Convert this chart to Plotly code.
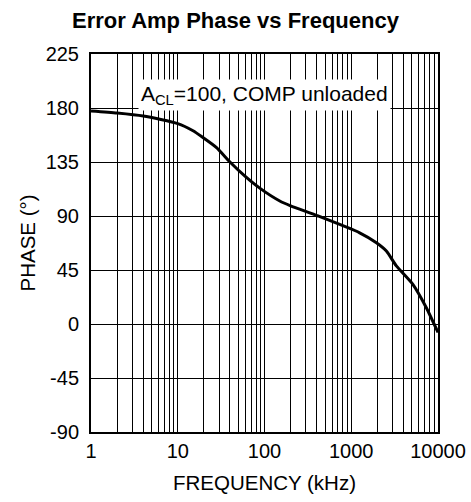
import plotly.graph_objects as go

freq_khz = [1, 2, 4, 10, 15, 19, 28, 40, 60, 89, 150, 200, 415, 1250, 1950, 2540, 3310, 5130, 7310, 10000]
phase_deg = [177.5, 175.8, 173.3, 167, 161, 156, 147, 135, 123, 113, 102.5, 98.5, 90, 76, 67.7, 60.8, 48.4, 33, 13.8, -7]

x_ticks = [1, 10, 100, 1000, 10000]
x_tick_labels = ["1", "10", "100", "1000", "10000"]
y_ticks = [-90, -45, 0, 45, 90, 135, 180, 225]
y_tick_labels = ["-90", "-45", "0", "45", "90", "135", "180", "225"]

fig = go.Figure()
fig.add_trace(go.Scatter(x=freq_khz, y=phase_deg, mode="lines",
                         line=dict(color="black", width=3, shape="spline", smoothing=0.6),
                         showlegend=False, hoverinfo="skip"))

font = "Liberation Sans, Arial, sans-serif"
fig.update_layout(
    width=471, height=502,
    margin=dict(l=90.5, r=32.5, t=53.5, b=70.3, autoexpand=False),
    paper_bgcolor="white", plot_bgcolor="white",
    font=dict(family=font, size=20, color="black"),
    title=dict(text="<b>Error Amp Phase vs Frequency</b>", x=0.5, xanchor="center",
               y=1 - 20 / 502, yanchor="middle", font=dict(size=22, family=font)),
    xaxis=dict(type="log", range=[0, 4], tickvals=x_ticks, ticktext=x_tick_labels,
               showgrid=True, gridcolor="black", gridwidth=1,
               minor=dict(dtick="D1", showgrid=True, gridcolor="black", gridwidth=1, ticks=""),
               showline=True, linecolor="black", linewidth=2, mirror=True,
               ticks="", zeroline=False, tickfont=dict(size=20),
               automargin=False, ticklabeloverflow="allow",
               title=dict(text="FREQUENCY (kHz)", standoff=15, font=dict(size=20.5))),
    yaxis=dict(range=[-90, 225], tickvals=y_ticks, ticktext=y_tick_labels,
               showgrid=True, gridcolor="black", gridwidth=1,
               showline=True, linecolor="black", linewidth=2, mirror=True,
               ticks="", zeroline=False, tickfont=dict(size=20),
               automargin=False, ticklabelstandoff=6,
               title=dict(text="PHASE (°)", standoff=4, font=dict(size=20.5))),
)
fig.add_annotation(x=0.5, y=0.934, xref="paper", yref="paper",
                   text="A<sub>CL</sub>=100, COMP unloaded", showarrow=False,
                   bgcolor="white", font=dict(size=21, family=font), borderpad=2)

fig.write_html("out.html", config={"displayModeBar": False},
               post_script="document.body.style.margin='0';")
